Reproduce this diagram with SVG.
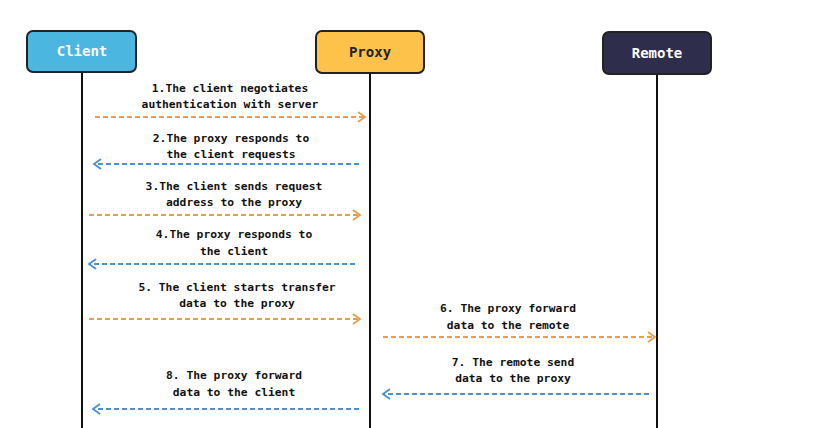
<svg xmlns="http://www.w3.org/2000/svg" width="824" height="428" viewBox="0 0 824 428">
<defs>
<style>
.box{stroke:#222;stroke-width:2}
.lbl{font-family:"DejaVu Sans Mono","Liberation Mono",monospace;font-weight:bold;font-size:14px;text-anchor:middle}
.life{stroke:#111;stroke-width:2}
.msg{font-family:"DejaVu Sans Mono","Liberation Mono",monospace;font-weight:bold;font-size:11.3px;fill:#111;text-anchor:middle}
.req{stroke:#e59e4c;stroke-width:1.8;stroke-dasharray:5 3;fill:none}
.res{stroke:#4d8fca;stroke-width:1.8;stroke-dasharray:5 3;fill:none}
</style>
<marker id="ao" markerWidth="12" markerHeight="12" refX="10" refY="6" orient="auto" markerUnits="userSpaceOnUse"><path d="M3,1 L10,6 L3,11" fill="none" stroke="#e59e4c" stroke-width="1.8"/></marker>
<marker id="ab" markerWidth="12" markerHeight="12" refX="10" refY="6" orient="auto" markerUnits="userSpaceOnUse"><path d="M3,1 L10,6 L3,11" fill="none" stroke="#4d8fca" stroke-width="1.8"/></marker>
</defs>
<rect width="824" height="428" fill="#fff"/>
<g id="lifelines">
<line class="life" x1="82" y1="72" x2="82" y2="428"/>
<line class="life" x1="370" y1="73" x2="370" y2="428"/>
<line class="life" x1="657" y1="74" x2="657" y2="428"/>
</g>
<g id="client">
<rect class="box" x="27" y="31" width="109" height="41" rx="6" fill="#4bb6e0"/>
<text class="lbl" x="82" y="56" fill="#fff">Client</text>
</g>
<g id="proxy">
<rect class="box" x="316" y="31" width="108" height="42" rx="6" fill="#fdc24a"/>
<text class="lbl" x="370" y="57" fill="#222">Proxy</text>
</g>
<g id="remote">
<rect class="box" x="603" y="32" width="108" height="42" rx="6" fill="#2e2d4b"/>
<text class="lbl" x="657" y="58" fill="#fff">Remote</text>
</g>
<g id="connectors">
<line class="req" x1="95" y1="117" x2="365" y2="117" marker-end="url(#ao)"/>
<line class="res" x1="359" y1="164" x2="94" y2="164" marker-end="url(#ab)"/>
<line class="req" x1="89" y1="215" x2="360" y2="215" marker-end="url(#ao)"/>
<line class="res" x1="355" y1="264" x2="89" y2="264" marker-end="url(#ab)"/>
<line class="req" x1="89" y1="319" x2="360" y2="319" marker-end="url(#ao)"/>
<line class="req" x1="383" y1="337" x2="655" y2="337" marker-end="url(#ao)"/>
<line class="res" x1="649" y1="394" x2="383" y2="394" marker-end="url(#ab)"/>
<line class="res" x1="359" y1="409" x2="93" y2="409" marker-end="url(#ab)"/>
</g>
<g id="labels">
<text class="msg" x="230" y="92">1.The client negotiates</text>
<text class="msg" x="230" y="108">authentication with server</text>
<text class="msg" x="231" y="142">2.The proxy responds to</text>
<text class="msg" x="231" y="158">the client requests</text>
<text class="msg" x="234" y="190">3.The client sends request</text>
<text class="msg" x="234" y="206">address to the proxy</text>
<text class="msg" x="234" y="238">4.The proxy responds to</text>
<text class="msg" x="234" y="255">the client</text>
<text class="msg" x="237" y="291">5. The client starts transfer</text>
<text class="msg" x="237" y="307">data to the proxy</text>
<text class="msg" x="508" y="312">6. The proxy forward</text>
<text class="msg" x="508" y="329">data to the remote</text>
<text class="msg" x="513" y="366">7. The remote send</text>
<text class="msg" x="513" y="382">data to the proxy</text>
<text class="msg" x="234" y="379">8. The proxy forward</text>
<text class="msg" x="234" y="396">data to the client</text>
</g>
</svg>
